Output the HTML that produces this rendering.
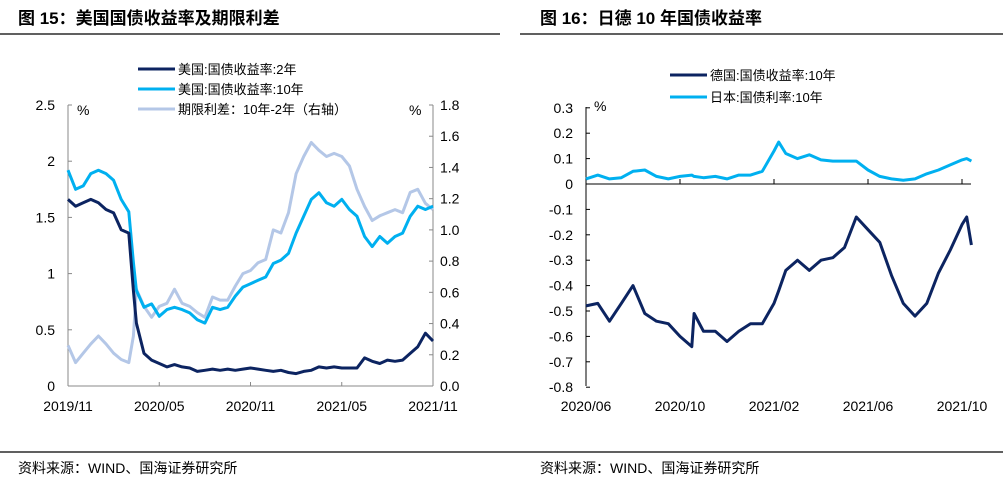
<!DOCTYPE html>
<html><head><meta charset="utf-8">
<style>
body{margin:0;background:#fff;width:1003px;height:484px;overflow:hidden;font-family:"Liberation Sans","Noto Sans CJK SC",sans-serif;}
svg text{font-family:"Liberation Sans","Noto Sans CJK SC",sans-serif;}
</style></head><body>
<svg id="s" width="1003" height="484" xmlns="http://www.w3.org/2000/svg">
<text x="18" y="24" font-size="17" font-weight="bold" font-family="'Noto Serif CJK SC',serif">图 15：美国国债收益率及期限利差</text>
<line x1="0" y1="34" x2="500" y2="34" stroke="#000" stroke-width="1.2"/>
<text x="540" y="24" font-size="17" font-weight="bold" font-family="'Noto Serif CJK SC',serif">图 16：日德 10 年国债收益率</text>
<line x1="520" y1="34" x2="1003" y2="34" stroke="#000" stroke-width="1.2"/>
<line x1="0" y1="452" x2="1003" y2="452" stroke="#000" stroke-width="1.2"/>
<text x="18" y="473" font-size="14">资料来源：WIND、国海证券研究所</text>
<text x="540" y="473" font-size="14">资料来源：WIND、国海证券研究所</text>
<g id="L"></g><g id="R"></g>
</svg>
<script>
const leftTicksX = ["2019/11","2020/05","2020/11","2021/05","2021/11"];
const leftTicksY = [0,0.5,1,1.5,2,2.5];
const leftTicksY2 = ["0.0","0.2","0.4","0.6","0.8","1.0","1.2","1.4","1.6","1.8"];
// months since 2019/11
const usT = [0,0.5,1,1.5,2,2.5,3,3.5,4,4.3,4.5,5,5.5,6,6.5,7,7.5,8,8.5,9,9.5,10,10.5,11,11.5,12,12.5,13,13.5,14,14.5,15,15.5,16,16.5,17,17.5,18,18.5,19,19.5,20,20.5,21,21.5,22,22.5,23,23.5,24];
const us10 = [1.92,1.75,1.78,1.89,1.92,1.89,1.83,1.66,1.55,1.1,0.85,0.7,0.73,0.62,0.68,0.70,0.68,0.65,0.59,0.56,0.70,0.68,0.70,0.80,0.88,0.91,0.94,0.97,1.09,1.12,1.18,1.36,1.51,1.66,1.72,1.63,1.60,1.66,1.57,1.51,1.33,1.24,1.33,1.27,1.33,1.36,1.51,1.60,1.57,1.60];
const us2 = [1.66,1.60,1.63,1.66,1.63,1.57,1.54,1.39,1.36,0.85,0.56,0.29,0.23,0.20,0.17,0.19,0.17,0.16,0.13,0.14,0.15,0.14,0.15,0.14,0.15,0.16,0.15,0.14,0.13,0.14,0.12,0.11,0.13,0.14,0.17,0.16,0.17,0.16,0.16,0.16,0.25,0.22,0.20,0.23,0.22,0.23,0.29,0.35,0.47,0.40];
const spread = [0.26,0.15,0.21,0.27,0.32,0.27,0.21,0.17,0.15,0.32,0.62,0.51,0.44,0.51,0.53,0.62,0.53,0.51,0.47,0.44,0.57,0.55,0.55,0.64,0.72,0.74,0.79,0.81,1.00,0.98,1.11,1.36,1.47,1.56,1.51,1.47,1.49,1.47,1.41,1.26,1.15,1.06,1.09,1.11,1.13,1.11,1.24,1.26,1.17,1.13];

const rightTicksX = ["2020/06","2020/10","2021/02","2021/06","2021/10"];
const rightTicksY = [0.3,0.2,0.1,0,-0.1,-0.2,-0.3,-0.4,-0.5,-0.6,-0.7,-0.8];
// months since 2020/06
const euT = [0,0.5,1,1.5,2,2.5,3,3.5,4,4.5,4.6,5,5.5,6,6.5,7,7.5,8,8.2,8.5,9,9.5,10,10.5,11,11.5,12,12.5,13,13.5,14,14.5,15,15.5,16,16.2,16.4];
const jp = [0.02,0.035,0.02,0.025,0.05,0.055,0.03,0.02,0.03,0.035,0.03,0.025,0.03,0.02,0.035,0.035,0.05,0.13,0.165,0.12,0.10,0.115,0.095,0.09,0.09,0.09,0.055,0.03,0.02,0.015,0.02,0.04,0.055,0.075,0.095,0.10,0.09];
const de = [-0.48,-0.47,-0.54,-0.47,-0.40,-0.51,-0.54,-0.55,-0.60,-0.64,-0.51,-0.58,-0.58,-0.62,-0.58,-0.55,-0.55,-0.47,-0.42,-0.34,-0.30,-0.34,-0.30,-0.29,-0.25,-0.13,-0.18,-0.23,-0.36,-0.47,-0.52,-0.47,-0.35,-0.26,-0.16,-0.13,-0.24];

const NS="http://www.w3.org/2000/svg";
function mk(tag,attrs,parent,txt){const e=document.createElementNS(NS,tag);for(const k in attrs)e.setAttribute(k,attrs[k]);if(txt!==undefined)e.textContent=txt;parent.appendChild(e);return e;}

// left chart
const L=document.getElementById('L');
const lx=t=>68+t*(433-68)/24, ly=v=>386-v*(281/2.5), ly2=v=>386-v*(281/1.8);
let a=mk('line',{x1:68,y1:105,x2:68,y2:386,stroke:'#888'},L);


a=mk('line',{x1:433,y1:105,x2:433,y2:386,stroke:'#888'},L);


a=mk('line',{x1:68,y1:386,x2:433,y2:386,stroke:'#888'},L);


leftTicksY.forEach(v=>{mk('line',{x1:68,x2:72,y1:ly(v),y2:ly(v),stroke:'#888'},L);
 const t=mk('text',{x:55,y:ly(v)+5,'font-size':14,'text-anchor':'end'},L,String(v));
 
 });
leftTicksY2.forEach(s=>{const v=parseFloat(s);mk('line',{x1:429,x2:433,y1:ly2(v),y2:ly2(v),stroke:'#888'},L);
 const t=mk('text',{x:440,y:ly2(v)+5,'font-size':14},L,s);
 
 });
leftTicksX.forEach((s,i)=>{const x=lx(i*6);mk('line',{x1:x,x2:x,y1:382,y2:386,stroke:'#888'},L);
 const t=mk('text',{x:x,y:411,'font-size':14,'text-anchor':'middle'},L,s);
 
 });
a=mk('text',{x:77,y:115,'font-size':14},L,'%');


a=mk('text',{x:409,y:115,'font-size':14},L,'%');


function line(par,xs,ys,fx,fy,color,w,name){const d=xs.map((t,i)=>(i?'L':'M')+fx(t).toFixed(1)+','+fy(ys[i]).toFixed(1)).join('');
 const p=mk('path',{d:d,fill:'none',stroke:color,'stroke-width':w,'stroke-linejoin':'round'},par);
 
 }
line(L,usT,spread,lx,ly2,'#b4c7e7',3,'spread-line');
line(L,usT,us10,lx,ly,'#00b0f0',3,'us10y-line');
line(L,usT,us2,lx,ly,'#0c2461',3,'us2y-line');
[['美国:国债收益率:2年','#0c2461'],['美国:国债收益率:10年','#00b0f0'],['期限利差：10年-2年（右轴）','#b4c7e7']].forEach((e,i)=>{
 const y=69+i*20;const g=mk('g',{},L);
 
 
 mk('line',{x1:138,x2:175,y1:y,y2:y,stroke:e[1],'stroke-width':3},g);
 mk('text',{x:178,y:y+5,'font-size':13},g,e[0]);});

// right chart
const R=document.getElementById('R');
const rx=t=>586+t*(962-586)/16, ry=v=>184-v*254;
a=mk('line',{x1:586,y1:107,x2:586,y2:386,stroke:'#000'},R);


a=mk('line',{x1:586,y1:184,x2:971,y2:184,stroke:'#000'},R);


rightTicksY.forEach(v=>{mk('line',{x1:586,x2:590,y1:ry(v),y2:ry(v),stroke:'#000'},R);
 const t=mk('text',{x:573,y:ry(v)+5,'font-size':14,'text-anchor':'end'},R,String(v));
 
 });
rightTicksX.forEach((s,i)=>{const x=rx(i*4);mk('line',{x1:x,x2:x,y1:184,y2:179,stroke:'#000'},R);
 const t=mk('text',{x:x,y:411,'font-size':14,'text-anchor':'middle'},R,s);
 
 });
a=mk('text',{x:594,y:111,'font-size':14},R,'%');


line(R,euT,jp,rx,ry,'#00b0f0',3,'japan-10y-line');
line(R,euT,de,rx,ry,'#0c2461',3,'germany-10y-line');
[['德国:国债收益率:10年','#0c2461'],['日本:国债利率:10年','#00b0f0']].forEach((e,i)=>{
 const y=75+i*22;const g=mk('g',{},R);
 
 
 mk('line',{x1:670,x2:707,y1:y,y2:y,stroke:e[1],'stroke-width':3},g);
 mk('text',{x:710,y:y+5,'font-size':13},g,e[0]);});
</script>
</body></html>
